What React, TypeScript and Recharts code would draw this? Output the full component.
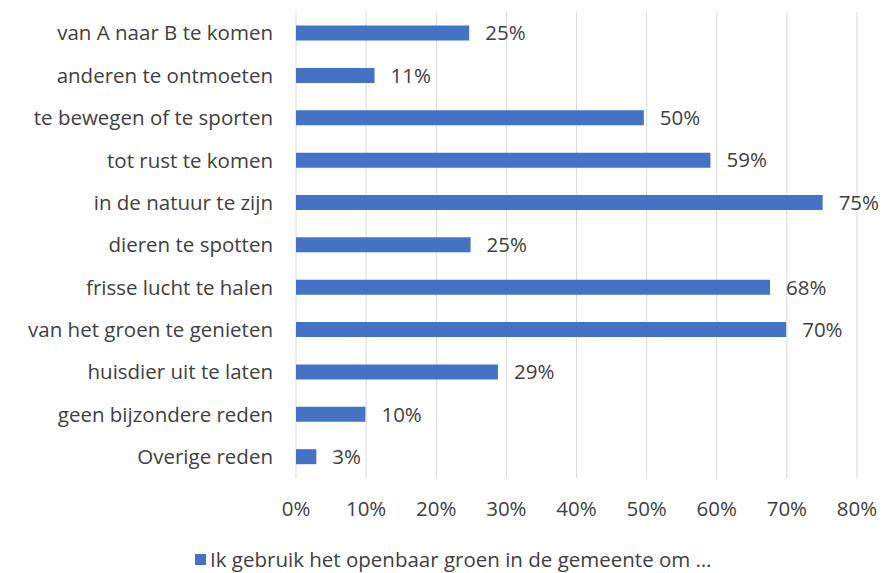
import { BarChart, Bar, XAxis, YAxis, CartesianGrid, LabelList } from 'recharts';

const categories = [
  'van A naar B te komen',
  'anderen te ontmoeten',
  'te bewegen of te sporten',
  'tot rust te komen',
  'in de natuur te zijn',
  'dieren te spotten',
  'frisse lucht te halen',
  'van het groen te genieten',
  'huisdier uit te laten',
  'geen bijzondere reden',
  'Overige reden',
];

// percentages
const values = [24.7, 11.2, 49.6, 59.1, 75.1, 24.9, 67.6, 69.9, 28.8, 9.9, 2.9];

const xTicks = [0, 10, 20, 30, 40, 50, 60, 70, 80];

const seriesName = 'Ik gebruik het openbaar groen in de gemeente om …';

const data = categories.map((name, i) => ({ name, value: values[i] }));

const font = '"Open Sans", sans-serif';
const textColor = '#404040';
const fs = 20.5;

export default function App() {
  return (
    <div style={{ position: 'absolute', left: 0, top: 0, width: 882, height: 573, background: '#fff', fontFamily: font }}>
      <BarChart
        width={882}
        height={573}
        data={data}
        layout="vertical"
        margin={{ top: 12, right: 25, left: 0, bottom: 45 }}
        barCategoryGap="32%"
      >
        <CartesianGrid horizontal={false} stroke="#d9d9d9" strokeWidth={1} />
        <XAxis
          type="number"
          domain={[0, 80]}
          ticks={xTicks}
          tickFormatter={(v: number) => `${v}%`}
          axisLine={false}
          tickLine={false}
          tickSize={0}
          tickMargin={23}
          height={50}
          tick={{ fill: textColor, fontSize: fs, fontFamily: font }}
          interval={0}
        />
        <YAxis
          type="category"
          dataKey="name"
          width={296}
          axisLine={false}
          tickLine={false}
          tickSize={0}
          tickMargin={23}
          interval={0}
          tick={{ fill: textColor, fontSize: fs, fontFamily: font }}
        />
        <Bar dataKey="value" name={seriesName} fill="#4472C4" isAnimationActive={false}>
          <LabelList
            dataKey="value"
            position="right"
            offset={16}
            formatter={(v: any) => `${Math.round(Number(v))}%`}
            style={{ fill: textColor, fontSize: fs, fontFamily: font }}
          />
        </Bar>
      </BarChart>
      <div
        style={{
          position: 'absolute',
          left: 195,
          top: 547,
          height: 24,
          lineHeight: '24px',
          display: 'flex',
          alignItems: 'center',
          fontSize: fs,
          color: textColor,
          whiteSpace: 'nowrap',
        }}
      >
        <span style={{ display: 'inline-block', width: 11, height: 11, background: '#4472C4', marginRight: 4 }} />
        <span>{seriesName}</span>
      </div>
    </div>
  );
}
